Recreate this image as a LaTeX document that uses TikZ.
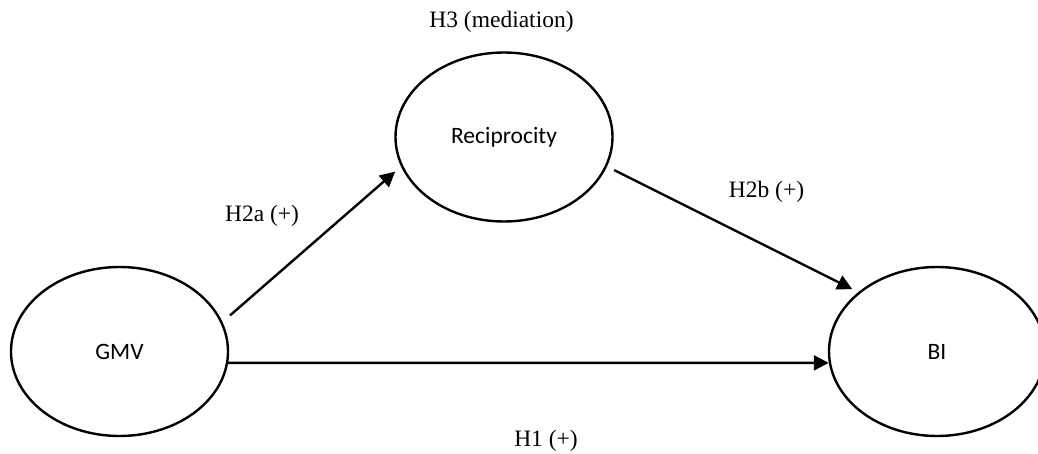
\documentclass[tikz,border=0pt]{standalone}
\usepackage{fontspec}
\setmainfont{Liberation Serif}
\newfontfamily\calfont{Carlito}
\usetikzlibrary{arrows.meta,shapes.geometric}
\tikzset{
  construct/.style={ellipse, draw, line width=2.4pt, inner sep=0pt,
    minimum width=217pt, minimum height=169pt, font=\calfont\fontsize{23.5}{28}\selectfont},
  path arrow/.style={line width=2.4pt, -{Triangle[length=15pt,width=15pt]}},
  hyp/.style={font=\fontsize{23.5}{28}\selectfont, inner sep=0pt, anchor=base}
}
\begin{document}
\begin{tikzpicture}[x=1pt,y=-1pt]
\useasboundingbox (0,0) rectangle (1038,454);
\node[construct] (GMV) at (119.5,351.5) {GMV};
\node[construct] (REC) at (504,137) {Reciprocity};
\node[construct, minimum width=216pt] (BI) at (937,351.5) {BI};

\draw[path arrow, shorten <=10pt, shorten >=7.8pt] (GMV.16.6) -- (REC.196.9);
\draw[path arrow, shorten <=8pt, shorten >=6.7pt] (REC.-16.8) -- (BI.143.1);
\draw[path arrow] (GMV.-6.1) -- (BI.186.13);

\node[hyp] (h3) at (501.5,28) {H3 (mediation)};
\node[hyp] (h2a) at (262,222) {H2a (+)};
\node[hyp] (h2b) at (766.5,197.5) {H2b (+)};
\node[hyp] (h1) at (546,446) {H1 (+)};
\end{tikzpicture}
\end{document}
